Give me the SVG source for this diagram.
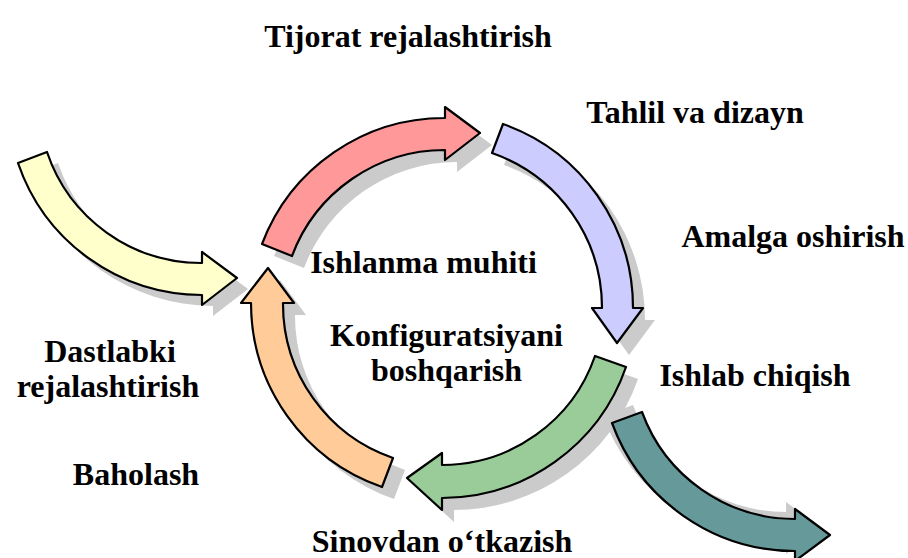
<svg xmlns="http://www.w3.org/2000/svg" width="908" height="558" viewBox="0 0 908 558">
<style>
.t{font-family:"Liberation Serif","Times New Roman",serif;font-weight:bold;font-size:32px;fill:#000;text-anchor:middle}
.a{stroke:#000;stroke-width:2.2;stroke-linejoin:round}
.sh{fill:#cbcbcb;stroke:none}
</style>
<defs>
<path id="pY" d="M18,163 A195,195 0 0 0 202,295 L202,305 L237,278 L202,252 L202,263 A163,163 0 0 1 47,152 Z"/>
<path id="pR" d="M262,244 A195,195 0 0 1 445,118 L445,107 L480,133 L445,160 L445,150 A163,163 0 0 0 292,256 Z"/>
<path id="pP" d="M503,124 A195,195 0 0 1 633,308 L643,308 L617,343 L592,308 L602,308 A164,164 0 0 0 492,153 Z"/>
<path id="pG" d="M626,367 A195,195 0 0 1 442,498 L442,510 L407,478 L442,453 L442,465 A162,162 0 0 0 595,356 Z"/>
<path id="pO" d="M382,487 A195,195 0 0 1 251,303 L241,303 L268,268 L294,303 L283,303 A163,163 0 0 0 393,458 Z"/>
<path id="pT" d="M612,423 A195,195 0 0 0 795,551 L795,561 L830,535 L795,509 L795,519 A163,163 0 0 1 642,412 Z"/>
</defs>
<rect width="908" height="558" fill="#fff"/>
<g id="shadows">
<use href="#pY" class="sh" transform="translate(11,11)"/>
<use href="#pR" class="sh" transform="translate(12,12)"/>
<use href="#pP" class="sh" transform="translate(12,12)"/>
<use href="#pG" class="sh" transform="translate(12,12)"/>
<use href="#pO" class="sh" transform="translate(12,12)"/>
<use href="#pT" class="sh" transform="translate(-9,-7)"/>
</g>
<g id="connectors">
<use id="arrow-yellow" href="#pY" class="a" fill="#ffffcc"/>
<use id="arrow-red" href="#pR" class="a" fill="#ff9999"/>
<use id="arrow-purple" href="#pP" class="a" fill="#ccccff"/>
<use id="arrow-green" href="#pG" class="a" fill="#99cc99"/>
<use id="arrow-orange" href="#pO" class="a" fill="#ffcc99"/>
<use id="arrow-teal" href="#pT" class="a" fill="#669999"/>
</g>
<g id="n-tijorat"><text class="t" font-family="Liberation Serif, serif" x="408" y="47">Tijorat rejalashtirish</text></g>
<g id="n-tahlil"><text class="t" font-family="Liberation Serif, serif" x="695" y="123">Tahlil va dizayn</text></g>
<g id="n-amalga"><text class="t" font-family="Liberation Serif, serif" x="793" y="247">Amalga oshirish</text></g>
<g id="n-ishlanma"><text class="t" font-family="Liberation Serif, serif" x="423.5" y="273">Ishlanma muhiti</text></g>
<g id="n-konfig"><text class="t" font-family="Liberation Serif, serif" x="446.5" y="346">Konfiguratsiyani</text><text class="t" font-family="Liberation Serif, serif" x="446.5" y="381">boshqarish</text></g>
<g id="n-ishlab"><text class="t" font-family="Liberation Serif, serif" x="755" y="386">Ishlab chiqish</text></g>
<g id="n-dastlabki"><text class="t" font-family="Liberation Serif, serif" x="110" y="362">Dastlabki</text><text class="t" font-family="Liberation Serif, serif" x="108" y="397">rejalashtirish</text></g>
<g id="n-baholash"><text class="t" font-family="Liberation Serif, serif" x="136" y="485">Baholash</text></g>
<g id="n-sinov"><text class="t" font-family="Liberation Serif, serif" x="442" y="552">Sinovdan o‘tkazish</text></g>
</svg>
